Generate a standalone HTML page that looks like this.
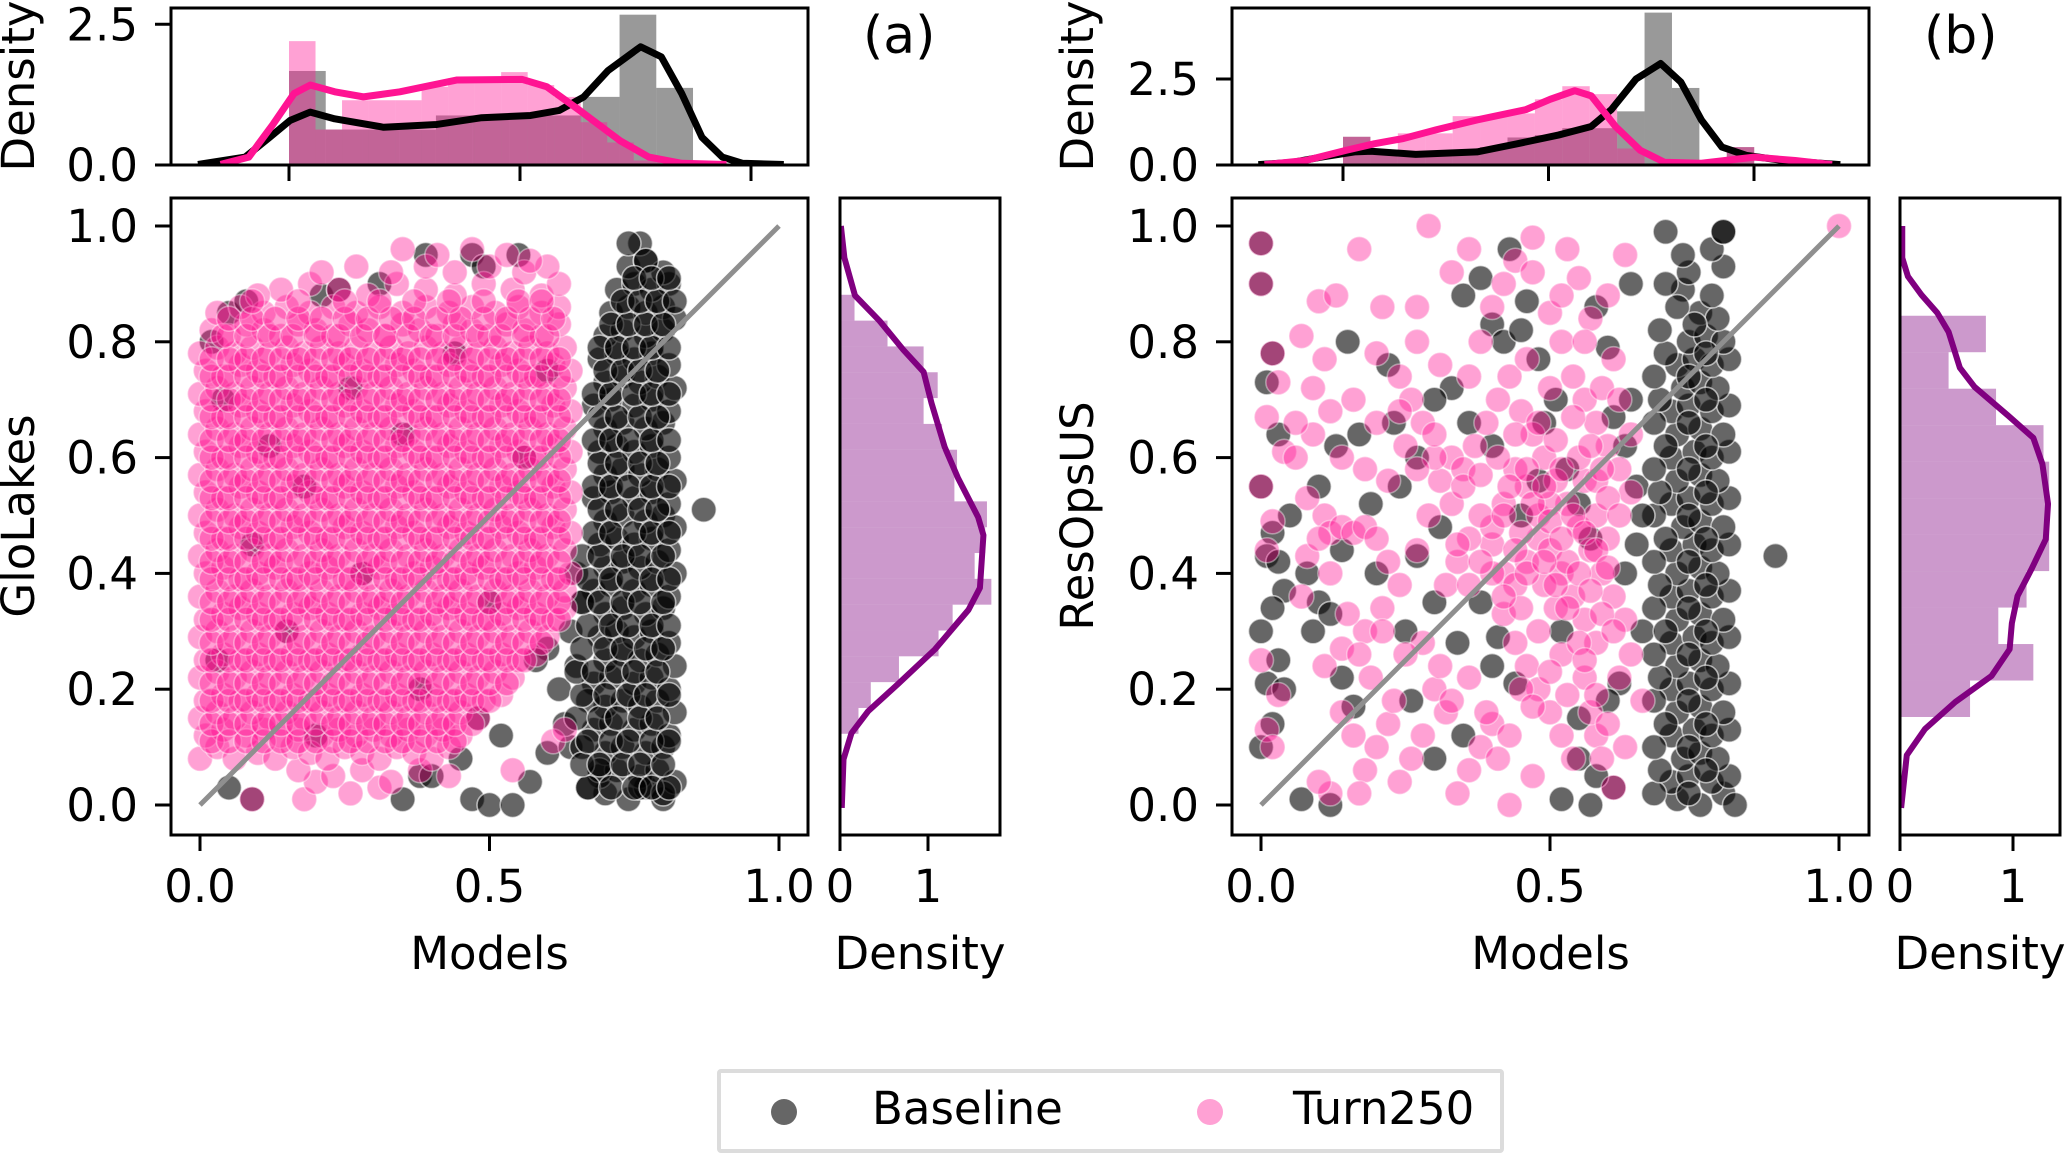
<!DOCTYPE html>
<html><head><meta charset="utf-8"><style>
html,body{margin:0;padding:0;background:#fff;}
svg{display:block;font-family:"DejaVu Sans","Liberation Sans",sans-serif;}
</style></head><body>
<svg id="fig" width="2067" height="1156" viewBox="0 0 2067 1156">
<defs>
<clipPath id="cTopA"><rect x="171" y="8" width="637" height="157"/></clipPath>
<clipPath id="cTopB"><rect x="1232" y="8" width="637" height="157"/></clipPath>
<clipPath id="cMainA"><rect x="171" y="198" width="637" height="637"/></clipPath>
<clipPath id="cMainB"><rect x="1232" y="198" width="637" height="637"/></clipPath>
<clipPath id="cRA"><rect x="840" y="198" width="160" height="637"/></clipPath>
<clipPath id="cRB"><rect x="1900" y="198" width="160" height="637"/></clipPath>
</defs>
<g id="layer"></g>
</svg>
<script>
// ---------- DATA (scatter values in percent units) ----------
const aBase = [70,2,74,1,77,3,80,1,69,5,72,6,76,5,79,6,82,4,70,9,73,10,77,9,80,10,68,13,71,14,75,13,78,14,81,12,70,17,73,18,76,17,79,18,82,16,68,21,71,22,75,21,78,22,81,20,70,25,73,26,76,25,79,26,82,24,69,29,72,30,75,29,78,30,81,28,70,33,73,34,77,33,80,34,68,37,71,38,75,37,78,38,81,36,70,41,73,42,76,41,79,42,82,40,69,45,72,46,75,45,78,46,81,44,70,49,73,50,77,49,80,50,82,48,68,53,71,54,75,53,78,54,81,52,70,57,73,58,76,57,79,58,82,56,69,61,72,62,75,61,78,62,81,60,70,65,73,66,77,65,80,66,68,69,71,70,75,69,78,70,81,68,70,73,73,74,76,73,79,74,82,72,69,77,72,78,75,77,78,78,81,76,70,81,73,82,77,81,80,82,71,85,74,86,77,85,80,86,82,84,72,89,75,90,78,89,81,90,74,93,77,94,80,92,76,97,
2,80,5,85,8,87,21,88,24,89,31,90,39,95,47,95,49,93,55,95,4,70,12,62,18,55,9,45,26,72,35,64,44,78,28,40,15,30,38,20,50,35,56,60,60,75,3,25,20,12,5,3,9,1,35,1,38,5,40,5,45,8,47,1,50,0,52,12,54,0,57,4,60,9,64,10,67,3,69,6,76,3,80,2,87,51,74,97,77,94,62,20,65,24,63,14,66,10,60,27,64,30,66,35,65,40,67,18,48,15,58,25];
// extra dense baseline band rows: [y, x...]
const aBaseBandRows = [[3,67,71,75,78,81],[7,66,69,73,76,80],[11,67,71,74,78,81],[15,65,69,72,76,79],[19,66,70,74,77,81],[23,65,68,72,75,79],[27,66,70,73,77,80],[31,67,71,74,78,81],[35,66,69,73,76,80],[39,67,71,74,78,81],[43,66,69,73,76,80],[47,68,71,75,78,81],[51,69,72,76,79],[55,68,71,74,78,81],[59,69,72,76,79],[63,68,71,74,78,81],[67,69,72,76,79],[71,68,71,75,78,81],[75,70,73,76,79],[79,69,72,75,78,81],[83,71,74,77,80],[87,73,76,79,82],[91,75,78,81]];
const aTurn = [9,1,18,1,20,4,26,2,31,3,17,6,23,5,28,6,33,4,38,6,43,5,54,6,
0,8,3,10,6,8,10,9,13,8,16,10,19,9,22,8,25,10,28,9,31,8,34,10,37,9,40,8,43,10,61,11,63,13,
1,12,4,13,8,12,11,13,14,12,17,13,21,12,24,13,27,12,30,13,33,12,36,13,39,12,42,13,45,12,
0,15,3,16,6,15,9,16,12,15,15,16,18,15,21,16,24,15,27,16,30,15,33,16,36,15,39,16,42,15,45,16,48,15,
1,18,4,19,7,18,10,19,13,18,16,19,19,18,22,19,25,18,28,19,31,18,34,19,37,18,40,19,43,18,46,19,49,18,52,19,
0,22,3,23,6,22,9,23,12,22,15,23,18,22,21,23,24,22,27,23,30,22,33,23,36,22,39,23,42,22,45,23,48,22,51,23,54,22,
1,25,4,26,7,25,10,26,13,25,16,26,19,25,22,26,25,25,28,26,31,25,34,26,37,25,40,26,43,25,46,26,49,25,52,26,55,25,58,26,
0,29,3,30,6,29,9,30,12,29,15,30,18,29,21,30,24,29,27,30,30,29,33,30,36,29,39,30,42,29,45,30,48,29,51,30,54,29,57,30,60,29,
1,32,4,33,7,34,10,33,13,32,16,33,19,34,22,33,25,32,28,33,31,34,34,33,37,32,40,33,43,34,46,33,49,32,52,33,55,34,58,33,61,32,63,34,
0,36,3,37,6,36,9,37,12,36,15,37,18,36,21,37,24,36,27,37,30,36,33,37,36,36,39,37,42,36,45,37,48,36,51,37,54,36,57,37,60,36,63,37,
1,40,4,41,7,39,10,40,13,41,16,39,19,40,22,41,25,39,28,40,31,41,34,39,37,40,40,41,43,39,46,40,49,41,52,39,55,40,58,41,61,39,64,40,
0,43,3,44,6,43,9,44,12,43,15,44,18,43,21,44,24,43,27,44,30,43,33,44,36,43,39,44,42,43,45,44,48,43,51,44,54,43,57,44,60,43,63,44,
1,47,4,46,7,48,10,47,13,46,16,48,19,47,22,46,25,48,28,47,31,46,34,48,37,47,40,46,43,48,46,47,49,46,52,48,55,47,58,46,61,48,64,47,
0,50,3,51,6,50,9,51,12,50,15,51,18,50,21,51,24,50,27,51,30,50,33,51,36,50,39,51,42,50,45,51,48,50,51,51,54,50,57,51,60,50,63,51,
1,54,4,53,7,55,10,54,13,53,16,55,19,54,22,53,25,55,28,54,31,53,34,55,37,54,40,53,43,55,46,54,49,53,52,55,55,54,58,53,61,55,64,54,
0,57,3,58,6,57,9,58,12,57,15,58,18,57,21,58,24,57,27,58,30,57,33,58,36,57,39,58,42,57,45,58,48,57,51,58,54,57,57,58,60,57,63,58,
1,61,4,60,7,62,10,61,13,60,16,62,19,61,22,60,25,62,28,61,31,60,34,62,37,61,40,60,43,62,46,61,49,60,52,62,55,61,58,60,61,62,64,61,
0,64,3,65,6,64,9,65,12,64,15,65,18,64,21,65,24,64,27,65,30,64,33,65,36,64,39,65,42,64,45,65,48,64,51,65,54,64,57,65,60,64,63,65,
1,68,4,67,7,69,10,68,13,67,16,69,19,68,22,67,25,69,28,68,31,67,34,69,37,68,40,67,43,69,46,68,49,67,52,69,55,68,58,67,61,69,64,68,
0,71,3,72,6,71,9,72,12,71,15,72,18,71,21,72,24,71,27,72,30,71,33,72,36,71,39,72,42,71,45,72,48,71,51,72,54,71,57,72,60,71,63,72,
1,75,4,74,7,76,10,75,13,74,16,76,19,75,22,74,25,76,28,75,31,74,34,76,37,75,40,74,43,76,46,75,49,74,52,76,55,75,58,74,61,76,64,75,
0,78,3,79,6,78,9,79,12,78,15,79,18,78,21,79,24,78,27,79,30,78,33,79,36,78,39,79,42,78,45,79,48,78,51,79,54,78,57,79,60,78,63,79,
2,82,5,81,8,83,11,82,14,81,17,83,20,82,23,81,26,83,29,82,32,81,35,83,38,82,41,81,44,83,47,82,50,81,53,83,56,82,59,81,62,83,
3,85,7,86,11,85,15,86,19,85,23,86,27,85,31,86,35,85,39,86,43,85,47,86,51,85,55,86,59,85,62,86,
14,89,19,90,24,89,29,88,34,90,39,89,44,88,49,90,54,89,59,88,62,90,
10,88,21,92,27,93,33,92,39,93,44,92,50,93,56,92,60,93,35,96,41,95,47,96,53,95,57,94];
// second (interleaved) dense layer of Turn250 points: [y, x...]
const aTurnDenseRows = [
[11,2,5,8,11,14,17,20,23,26,29,32,35,38,41,44],
[14,2,5,8,11,14,17,20,23,26,29,32,35,38,41,44,47],
[18,2,5,8,11,14,17,20,23,26,29,32,35,38,41,44,47,50],
[21,2,5,8,11,14,17,20,23,26,29,32,35,38,41,44,47,50,53],
[25,2,5,8,11,14,17,20,23,26,29,32,35,38,41,44,47,50,53,56],
[28,2,5,8,11,14,17,20,23,26,29,32,35,38,41,44,47,50,53,56,59],
[32,2,5,8,11,14,17,20,23,26,29,32,35,38,41,44,47,50,53,56,59,62],
[35,2,5,8,11,14,17,20,23,26,29,32,35,38,41,44,47,50,53,56,59,62],
[39,2,5,8,11,14,17,20,23,26,29,32,35,38,41,44,47,50,53,56,59,62],
[42,2,5,8,11,14,17,20,23,26,29,32,35,38,41,44,47,50,53,56,59,62],
[46,2,5,8,11,14,17,20,23,26,29,32,35,38,41,44,47,50,53,56,59,62],
[49,2,5,8,11,14,17,20,23,26,29,32,35,38,41,44,47,50,53,56,59,62],
[53,2,5,8,11,14,17,20,23,26,29,32,35,38,41,44,47,50,53,56,59,62],
[56,2,5,8,11,14,17,20,23,26,29,32,35,38,41,44,47,50,53,56,59,62],
[60,2,5,8,11,14,17,20,23,26,29,32,35,38,41,44,47,50,53,56,59,62],
[63,2,5,8,11,14,17,20,23,26,29,32,35,38,41,44,47,50,53,56,59,62],
[67,2,5,8,11,14,17,20,23,26,29,32,35,38,41,44,47,50,53,56,59,62],
[70,2,5,8,11,14,17,20,23,26,29,32,35,38,41,44,47,50,53,56,59,62],
[74,2,5,8,11,14,17,20,23,26,29,32,35,38,41,44,47,50,53,56,59,62],
[77,2,5,8,11,14,17,20,23,26,29,32,35,38,41,44,47,50,53,56,59,62],
[81,4,8,12,16,20,24,28,32,36,40,44,48,52,56,60],
[84,5,9,13,17,21,25,29,33,37,41,45,49,53,57,61],
[87,9,17,25,31,37,43,49,55,59]];
const bBase = [72,1,76,0,80,2,82,0,71,4,74,5,78,4,81,5,73,8,76,9,79,8,71,12,75,13,78,12,81,13,72,16,76,17,80,16,71,20,74,21,78,20,81,21,72,24,76,25,79,24,71,28,75,29,78,28,81,29,72,32,76,33,80,32,71,36,74,37,78,36,81,37,72,40,76,41,79,40,71,44,75,45,78,44,81,45,73,48,76,49,80,48,71,52,74,53,78,52,81,53,72,56,76,57,79,56,71,60,75,61,78,60,81,61,72,64,76,65,80,64,71,68,74,69,78,68,81,69,73,72,76,73,79,72,72,76,75,77,78,76,81,77,74,80,77,81,80,80,76,85,79,84,78,88,73,89,74,92,80,93,78,96,80,99,
0,97,0,90,2,78,1,73,3,64,0,55,2,47,1,43,4,37,0,30,3,25,1,21,2,14,0,10,7,1,12,0,9,30,10,35,14,44,13,62,17,64,19,52,16,17,14,22,22,76,24,55,27,43,31,48,33,72,35,88,38,91,40,83,42,80,43,96,46,87,48,77,49,66,51,70,53,58,55,52,57,46,58,86,60,79,61,67,63,62,64,90,65,55,66,30,62,21,60,18,55,15,52,1,57,0,61,3,44,21,41,29,38,35,35,12,30,8,26,18,89,43,70,99,80,99,
68,2,69,6,68,10,70,14,68,18,69,22,68,26,70,30,68,34,69,38,68,42,70,46,68,50,69,54,68,58,70,62,68,66,69,70,68,74,70,78,69,82,72,86,70,90,73,95,
74,2,77,6,74,10,77,14,74,18,77,22,74,26,77,30,74,34,77,38,74,42,77,46,74,50,77,54,74,58,77,62,74,66,77,70,74,74,77,78,75,83,
5,50,8,40,12,33,20,40,25,30,30,35,34,28,40,24,45,50,48,56,52,30,55,8,58,5,63,40,65,45,66,50,64,70,45,82,40,62,36,66,30,70,27,60,23,66,15,80,10,55,3,42,2,34,4,20];
const bTurn = [0,97,0,90,2,78,3,73,1,67,4,61,0,55,2,49,1,44,0,25,3,19,1,13,2,10,7,81,10,87,11,50,12,47,14,48,16,47,18,48,20,46,22,42,8,43,7,36,11,24,14,27,18,30,21,34,24,38,27,44,29,50,31,56,33,60,35,58,37,62,39,66,41,70,43,74,45,68,47,64,49,60,51,56,53,52,55,48,57,44,59,40,61,36,63,32,40,45,42,40,44,38,46,42,48,46,50,44,52,40,54,36,56,32,58,28,48,50,50,52,46,55,44,58,42,52,40,48,38,50,36,46,34,42,32,38,30,60,28,66,26,70,24,68,20,66,16,70,12,68,9,64,6,60,36,74,38,80,40,86,42,90,44,94,47,92,50,85,52,80,54,74,56,70,58,66,60,62,62,58,64,54,59,72,61,77,57,84,55,91,53,96,29,100,17,96,13,88,21,86,33,92,27,80,31,76,48,20,50,16,52,12,46,24,44,28,42,33,40,14,38,10,36,6,34,2,32,16,30,20,28,12,26,8,24,4,22,14,20,10,18,6,16,12,14,16,12,2,10,4,17,2,43,0,47,5,54,8,58,12,62,22,64,26,56,22,52,26,48,30,45,34,56,56,58,50,60,46,53,42,49,38,51,34,55,28,57,16,59,8,61,3,63,10,66,18,100,100,
42,50,45,47,47,52,50,49,52,46,54,50,56,47,58,44,60,41,44,44,46,40,49,42,51,38,53,34,55,40,57,37,59,33,61,30,43,55,46,58,49,55,52,58,55,60,58,56,60,53,62,50,40,40,42,36,38,42,36,38,34,45,33,52,35,55,38,57,41,60,44,64,48,66,51,63,54,67,57,62,59,58,45,20,47,17,50,23,53,19,56,25,58,19,60,14,43,12,41,8,39,16,36,22,33,18,31,24,28,28,25,26,23,18,21,30,19,22,17,26,15,33,12,40,10,46,8,53,6,66,9,72,11,77,14,60,18,58,22,56,25,62,27,58,30,64,24,74,20,78,27,86,36,96,47,98,52,88,56,80,62,70,64,64,60,88,63,95,50,72,46,77];

// top marginal histograms (density)
const aTopBaseHist = [1.67,0.63,0.63,0.63,0.88,0.88,0.88,0.88,1.21,2.67,1.37];
const aTopBaseBin = [0, 0.0795];
const aTopTurnHist = [2.2,0.63,1.15,1.15,1.15,1.39,1.54,1.54,1.65,1.42,1.21,0.76,0.4,0.08];
const aTopTurnBin = [0, 0.0574];
const bTopBaseHist = [0.82,0.3,0.25,0.4,0.4,0.52,0.8,0.87,1.07,1.07,1.56,4.43,2.24,0,0.52];
const bTopTurnHist = [0.82,0.4,0.92,0.92,1.42,1.42,1.5,1.91,2.29,2.06,0.48,0,0,0,0.52];
const bTopBin = [0, 0.0667];
// top marginal KDEs
const aKdeBaseX = [-0.197,-0.095,-0.042,0.002,0.046,0.099,0.205,0.32,0.417,0.523,0.585,0.638,0.691,0.761,0.806,0.85,0.894,0.938,0.982,1.071];
const aKdeBaseY = [0.01,0.14,0.49,0.79,0.94,0.82,0.67,0.72,0.84,0.88,0.97,1.21,1.68,2.1,1.92,1.27,0.49,0.14,0.03,0.01];
const aKdeTurnX = [-0.148,-0.087,-0.034,0.011,0.046,0.099,0.161,0.24,0.364,0.505,0.558,0.629,0.717,0.779,0.85,0.947];
const aKdeTurnY = [0.01,0.14,0.73,1.27,1.42,1.3,1.21,1.3,1.51,1.52,1.39,0.97,0.43,0.14,0.03,0.01];
const bKdeBaseX = [-0.206,-0.121,-0.052,0.028,0.068,0.177,0.326,0.425,0.524,0.604,0.653,0.713,0.773,0.822,0.872,0.922,0.981,1.071,1.21];
const bKdeBaseY = [0.01,0.08,0.23,0.38,0.4,0.31,0.38,0.62,0.87,1.12,1.61,2.5,2.95,2.41,1.31,0.52,0.28,0.13,0.01];
const bKdeTurnX = [-0.191,-0.091,0.008,0.077,0.147,0.226,0.326,0.445,0.504,0.564,0.604,0.663,0.723,0.782,0.872,1.001,1.1,1.19];
const bKdeTurnY = [0.01,0.13,0.43,0.62,0.77,1.02,1.31,1.61,1.91,2.16,2.01,1.12,0.43,0.08,0.05,0.23,0.13,0.01];
// right marginal histograms (bottom to top)
const aRightHist = [0.21,0.35,0.67,1.12,1.28,1.72,1.53,1.65,1.67,1.3,1.33,1.16,0.95,1.11,0.95,0.54,0.165];
const aRightBin = [0.123, 0.0446];
const bRightHist = [0.62,1.18,0.87,1.12,1.32,1.32,1.32,1.27,0.85,0.43,0.76];
const bRightBin = [0.152, 0.063];
const aKdeRY = [1.0,0.945,0.88,0.836,0.786,0.748,0.694,0.618,0.565,0.497,0.466,0.375,0.337,0.269,0.209,0.162,0.124,0.079,-0.005];
const aKdeRD = [0.01,0.05,0.17,0.45,0.72,0.95,1.04,1.19,1.34,1.57,1.63,1.59,1.46,1.08,0.66,0.32,0.13,0.04,0.02];
const bKdeRY = [1.0,0.945,0.913,0.881,0.85,0.817,0.786,0.755,0.722,0.672,0.634,0.589,0.52,0.459,0.406,0.361,0.314,0.269,0.223,0.178,0.131,0.086,-0.005];
const bKdeRD = [0.02,0.02,0.07,0.19,0.33,0.43,0.48,0.53,0.66,0.96,1.18,1.26,1.31,1.29,1.16,1.04,0.99,0.97,0.81,0.49,0.22,0.06,0.01];
// tick labels
const mainXTicks = [0, 0.5, 1.0];
const mainXTickLabels = ['0.0','0.5','1.0'];
const mainYTicks = [0, 0.2, 0.4, 0.6, 0.8, 1.0];
const mainYTickLabels = ['0.0','0.2','0.4','0.6','0.8','1.0'];
const topYTicks = [0, 2.5];
const topYTickLabels = ['0.0','2.5'];
const rightXTicks = [0, 1];
const rightXTickLabels = ['0','1'];

// expand row-format data into flat [x,y,...] lists
function rowsToPairs(rows){
  const out = [];
  rows.forEach(r => { for (let i = 1; i < r.length; i++) out.push(r[i], r[0]); });
  return out;
}

// ---------- DRAWING ----------
const svg = document.getElementById('fig');
const NS = svg.namespaceURI;
const root = document.getElementById('layer');
function mk(tag, attrs, parent){
  const el = document.createElementNS(NS, tag);
  for (const k in attrs) el.setAttribute(k, attrs[k]);
  (parent || root).appendChild(el);
  return el;
}
const BLACK_FILL='#000', PINK='#ff1493';

function panel(p){
  const g = mk('g', {});
  
  
  const sx = v => p.mx0 + p.mxs * v;
  const sy = v => 805 - 579 * v;
  const tx = v => p.tx0 + p.txs * v;
  const ty = d => 165 - p.tys * d;
  const rx = d => p.rx0 + p.rxs * d;

  // ---- top marginal ----
  const tg = mk('g', {'clip-path': 'url(#' + p.cTop + ')'}, g);
  
  
  p.topBase.forEach((h, i) => {
    const x0 = p.topBaseBin[0] + i * p.topBaseBin[1];
    const r = mk('rect', {x: tx(x0), y: ty(h), width: tx(x0 + p.topBaseBin[1]) - tx(x0), height: ty(0) - ty(h), fill: '#000', 'fill-opacity': 0.4}, tg);
    
    
  });
  p.topTurn.forEach((h, i) => {
    const x0 = p.topTurnBin[0] + i * p.topTurnBin[1];
    const r = mk('rect', {x: tx(x0), y: ty(h), width: tx(x0 + p.topTurnBin[1]) - tx(x0), height: ty(0) - ty(h), fill: PINK, 'fill-opacity': 0.4}, tg);
    
    
  });
  const kb = mk('polyline', {points: p.kbX.map((v, i) => tx(v) + ',' + ty(p.kbY[i])).join(' '), fill: 'none', stroke: '#000', 'stroke-width': 7, 'stroke-linejoin': 'round'}, tg);
  
  
  const kt = mk('polyline', {points: p.ktX.map((v, i) => tx(v) + ',' + ty(p.ktY[i])).join(' '), fill: 'none', stroke: PINK, 'stroke-width': 7, 'stroke-linejoin': 'round'}, tg);
  
  
  const tf = mk('rect', {x: p.ax0, y: 8, width: 637, height: 157, fill: 'none', stroke: '#000', 'stroke-width': 3}, g);
  
  
  mainXTicks.forEach(v => {
    const t = mk('line', {x1: tx(v), x2: tx(v), y1: 165, y2: 181, stroke: '#000', 'stroke-width': 3}, g);
    
    
  });
  topYTicks.forEach((v, i) => {
    const t = mk('line', {x1: p.ax0 - 16, x2: p.ax0, y1: ty(v), y2: ty(v), stroke: '#000', 'stroke-width': 3}, g);
    
    
    const l = mk('text', {x: p.ax0 - 33, y: ty(v) + 16, 'text-anchor': 'end', 'font-size': 45}, g);
    l.textContent = topYTickLabels[i];
    
    
  });
  const tyl = mk('text', {x: 0, y: 0, transform: 'translate(' + p.ylabX + ',86) rotate(-90)', 'text-anchor': 'middle', 'font-size': 45}, g);
  tyl.textContent = 'Density';
  
  
  const pl = mk('text', {x: p.ax0 + 692, y: 53, 'font-size': 52}, g);
  pl.textContent = p.label;
  
  

  // ---- main scatter ----
  const mg = mk('g', {'clip-path': 'url(#' + p.cMain + ')'}, g);
  
  
  for (let i = 0; i < p.base.length; i += 2) {
    const c = mk('circle', {cx: sx(p.base[i] / 100), cy: sy(p.base[i + 1] / 100), r: 12.5, fill: BLACK_FILL, 'fill-opacity': 0.6, stroke: '#fff', 'stroke-opacity': 0.6, 'stroke-width': 1.6}, mg);
    
    
  }
  for (let i = 0; i < p.turn.length; i += 2) {
    const c = mk('circle', {cx: sx(p.turn[i] / 100), cy: sy(p.turn[i + 1] / 100), r: 12.5, fill: PINK, 'fill-opacity': 0.4, stroke: '#fff', 'stroke-opacity': 0.4, 'stroke-width': 1.6}, mg);
    
    
  }
  const ol = mk('line', {x1: sx(0), y1: sy(0), x2: sx(1), y2: sy(1), stroke: '#8f8f8f', 'stroke-width': 5}, mg);
  
  
  const mf = mk('rect', {x: p.ax0, y: 198, width: 637, height: 637, fill: 'none', stroke: '#000', 'stroke-width': 3}, g);
  
  
  mainXTicks.forEach((v, i) => {
    const t = mk('line', {x1: sx(v), x2: sx(v), y1: 835, y2: 851, stroke: '#000', 'stroke-width': 3}, g);
    
    
    const l = mk('text', {x: sx(v), y: 902, 'text-anchor': 'middle', 'font-size': 45}, g);
    l.textContent = mainXTickLabels[i];
    
    
  });
  mainYTicks.forEach((v, i) => {
    const t = mk('line', {x1: p.ax0 - 16, x2: p.ax0, y1: sy(v), y2: sy(v), stroke: '#000', 'stroke-width': 3}, g);
    
    
    const l = mk('text', {x: p.ax0 - 33, y: sy(v) + 16, 'text-anchor': 'end', 'font-size': 45}, g);
    l.textContent = mainYTickLabels[i];
    
    
  });
  const xl = mk('text', {x: p.ax0 + 318.5, y: 969, 'text-anchor': 'middle', 'font-size': 45}, g);
  xl.textContent = 'Models';
  
  
  const yl = mk('text', {x: 0, y: 0, transform: 'translate(' + p.ylabX + ',516) rotate(-90)', 'text-anchor': 'middle', 'font-size': 45}, g);
  yl.textContent = p.ylab;
  
  

  // ---- right marginal ----
  const rg = mk('g', {'clip-path': 'url(#' + p.cR + ')'}, g);
  
  
  p.rHist.forEach((h, i) => {
    const y0 = p.rBin[0] + i * p.rBin[1];
    const r = mk('rect', {x: rx(0), y: sy(y0 + p.rBin[1]), width: rx(h) - rx(0), height: sy(y0) - sy(y0 + p.rBin[1]), fill: '#800080', 'fill-opacity': 0.4}, rg);
    
    
  });
  const rk = mk('polyline', {points: p.rKY.map((v, i) => rx(p.rKD[i]) + ',' + sy(v)).join(' '), fill: 'none', stroke: '#800080', 'stroke-width': 6, 'stroke-linejoin': 'round'}, rg);
  
  
  const rf = mk('rect', {x: p.rx0, y: 198, width: 160, height: 637, fill: 'none', stroke: '#000', 'stroke-width': 3}, g);
  
  
  rightXTicks.forEach((v, i) => {
    const t = mk('line', {x1: rx(v), x2: rx(v), y1: 835, y2: 851, stroke: '#000', 'stroke-width': 3}, g);
    
    
    const l = mk('text', {x: rx(v), y: 902, 'text-anchor': 'middle', 'font-size': 45}, g);
    l.textContent = rightXTickLabels[i];
    
    
  });
  const rl = mk('text', {x: p.rx0 + 80, y: 969, 'text-anchor': 'middle', 'font-size': 45}, g);
  rl.textContent = 'Density';
  
  
}

panel({key: 'glolakes', label: '(a)', ylab: 'GloLakes', ax0: 171, mx0: 200, mxs: 579, tx0: 289, txs: 462, tys: 56.3, rx0: 840, rxs: 88, ylabX: 34,
  cTop: 'cTopA', cMain: 'cMainA', cR: 'cRA',
  base: aBase.concat(rowsToPairs(aBaseBandRows)), turn: aTurn.concat(rowsToPairs(aTurnDenseRows)),
  topBase: aTopBaseHist, topBaseBin: aTopBaseBin, topTurn: aTopTurnHist, topTurnBin: aTopTurnBin,
  kbX: aKdeBaseX, kbY: aKdeBaseY, ktX: aKdeTurnX, ktY: aKdeTurnY, rHist: aRightHist, rBin: aRightBin, rKY: aKdeRY, rKD: aKdeRD});
panel({key: 'resopsus', label: '(b)', ylab: 'ResOpsUS', ax0: 1232, mx0: 1261, mxs: 578, tx0: 1343, txs: 411, tys: 34.4, rx0: 1900, rxs: 113, ylabX: 1093,
  cTop: 'cTopB', cMain: 'cMainB', cR: 'cRB',
  base: bBase, turn: bTurn, topBase: bTopBaseHist, topBaseBin: bTopBin, topTurn: bTopTurnHist, topTurnBin: bTopBin,
  kbX: bKdeBaseX, kbY: bKdeBaseY, ktX: bKdeTurnX, ktY: bKdeTurnY, rHist: bRightHist, rBin: bRightBin, rKY: bKdeRY, rKD: bKdeRD});

// ---- legend ----
const lg = mk('g', {});


const lb = mk('rect', {x: 719, y: 1071, width: 783, height: 80, fill: '#fff', stroke: '#dcdcdc', 'stroke-width': 4, rx: 2}, lg);


const lm1 = mk('circle', {cx: 784, cy: 1112, r: 13, fill: '#000', 'fill-opacity': 0.6}, lg);


const lt1 = mk('text', {x: 872, y: 1124, 'font-size': 45}, lg);
lt1.textContent = 'Baseline';


const lm2 = mk('circle', {cx: 1210, cy: 1112, r: 13, fill: PINK, 'fill-opacity': 0.4}, lg);


const lt2 = mk('text', {x: 1293, y: 1124, 'font-size': 45}, lg);
lt2.textContent = 'Turn250';


</script>
</body></html>
